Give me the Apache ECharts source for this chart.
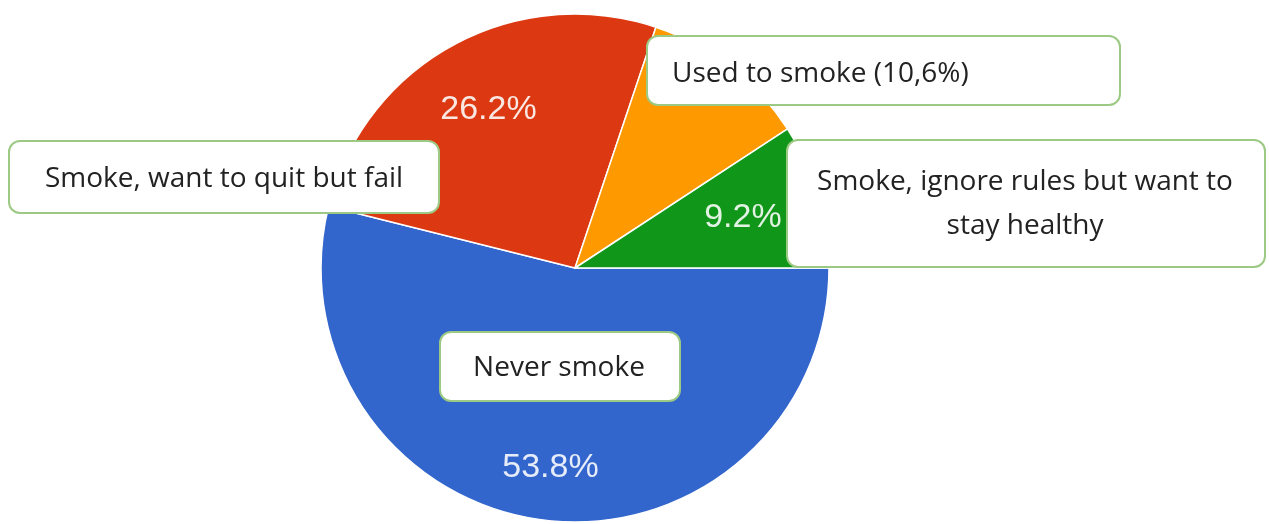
<!DOCTYPE html>
<html>
<head>
<meta charset="utf-8">
<script src="https://cdn.jsdelivr.net/npm/echarts@6/dist/echarts.min.js"></script>
<style>
  html, body { margin: 0; padding: 0; background: #fff; }
  #chart { width: 1269px; height: 524px; }
</style>
</head>
<body>
<div id="chart"></div>
<script>
// ---- data ----
const categories = ['Never smoke', 'Smoke, want to quit but fail', 'Used to smoke', 'Smoke, ignore rules but want to stay healthy'];
const shares = [53.8, 26.2, 10.6, 9.2];
const showPct = [true, true, false, true];
const calloutTexts = ['Never smoke', 'Smoke, want to quit but fail', 'Used to smoke (10,6%)', 'Smoke, ignore rules but want to\nstay healthy'];

// ---- style ----
const sliceColors = ['#3366cc', '#dc3912', '#ff9900', '#109618'];
const CX = 575, CY = 268, R = 254;
const labelRadiusFrac = [0.79, 0.71, 0.7, 0.69];
const boxStroke = '#9cc983';
const boxFont = '28px "Open Sans", "Noto Sans", sans-serif';

const total = shares.reduce((a, b) => a + b, 0);
const midAngles = [];
(function () {
  let acc = 0;
  for (let i = 0; i < shares.length; i++) {
    const span = shares[i] / total * 360;
    midAngles.push(-(acc + span / 2)); // clockwise from 0deg
    acc += span;
  }
})();

function box(x, y, w, h, text, align, tx, ty) {
  return [
    { type: 'rect', z: 100, shape: { x: x, y: y, width: w, height: h, r: 11 },
      style: { fill: '#fff', stroke: boxStroke, lineWidth: 2 } },
    { type: 'text', z: 101, x: tx, y: ty,
      style: { text: text, font: boxFont, fill: '#222', align: align, textAlign: align,
               verticalAlign: 'middle', textVerticalAlign: 'middle', lineHeight: 44 } }
  ];
}

const chart = echarts.init(document.getElementById('chart'));
chart.setOption({
  animation: false,
  series: [{
    type: 'pie',
    center: [CX, CY],
    radius: R,
    startAngle: 0,
    clockwise: true,
    avoidLabelOverlap: false,
    itemStyle: { borderColor: '#fff', borderWidth: 1.5 },
    label: {
      show: true,
      position: 'inside',
      formatter: p => p.value.toFixed(1) + '%',
      color: 'rgba(255,255,255,0.88)',
      fontFamily: '"Liberation Sans", Arial, sans-serif',
      fontSize: 34
    },
    labelLine: { show: false },
    labelLayout: function (params) {
      const i = params.dataIndex;
      const a = midAngles[i] * Math.PI / 180;
      const d = R * labelRadiusFrac[i];
      return { x: CX + d * Math.cos(a), y: CY - d * Math.sin(a), align: 'center', verticalAlign: 'middle' };
    },
    data: categories.map((c, i) => ({
      name: c,
      value: shares[i],
      itemStyle: { color: sliceColors[i] },
      label: { show: showPct[i] }
    }))
  }],
  graphic: { elements: [].concat(
    box(647, 36, 473, 69, calloutTexts[2], 'left', 672, 74),
    box(9, 141, 430, 72, calloutTexts[1], 'center', 224, 179),
    box(787, 140, 478, 127, calloutTexts[3], 'center', 1025, 204),
    box(440, 332, 240, 69, calloutTexts[0], 'center', 559, 368)
  ) }
});
</script>
</body>
</html>
